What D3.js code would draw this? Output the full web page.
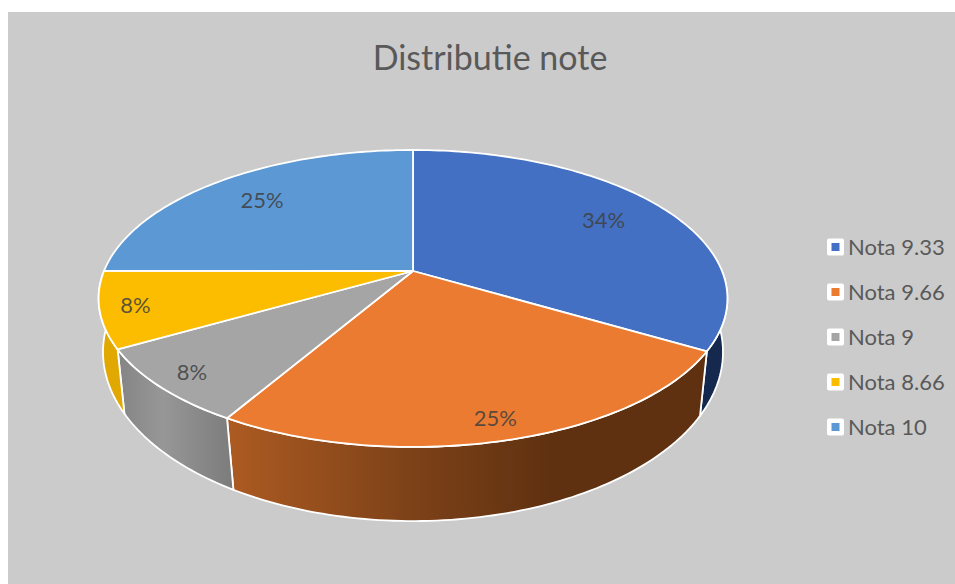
<!DOCTYPE html>
<html>
<head>
<meta charset="utf-8">
<script src="https://cdn.jsdelivr.net/npm/d3@7"></script>
<style>
    body { margin: 0; background: #fff; overflow: hidden; }
    text { font-family: Lato, "Open Sans", sans-serif; }
</style>
</head>
<body>
<div id="chart"></div>
<script>
/* ----------------------------------------------------- Data ------------------------------------------------------------------------- */

const title = "Distributie note";
const categories = ["Nota 9.33", "Nota 9.66", "Nota 9", "Nota 8.66", "Nota 10"];
const shares = [33.5, 25, 8.3, 8.3, 25];
const colors = ["#4370c2", "#ea7b30", "#a5a5a5", "#fcbd00", "#5b98d4"];

/* ----------------------------------------------------- Projection ------------------------------------------------------------------- */

const width = 955;
const height = 584;

/* the disc is seen in perspective, so the hub sits above the middle of the ellipse */
function project(disc, angle, r) {
    const u = r * Math.sin(angle);
    const v = r * Math.cos(angle);
    const w = 1 + disc.tilt * v;
    return [disc.cx + disc.rx * u / w, disc.cy - disc.ry * v / w];
}

const topDisc = { cx: 413, cy: 271, rx: 309, ry: 143.4, tilt: 0.185 };
const bottomDisc = { cx: 413, cy: 325, rx: 306, ry: 164.7, tilt: 0.16 };

function rim(disc, a0, a1) {
    const n = Math.max(2, Math.ceil((a1 - a0) / 0.02));
    return d3.range(n + 1).map(i => project(disc, a0 + (a1 - a0) * i / n, 1));
}

/* ----------------------------------------------------- Drawing ---------------------------------------------------------------------- */

const svg = d3.select("#chart").append("svg")
    .attr("width", width)
    .attr("height", height);

svg.append("rect")
    .attr("x", 8)
    .attr("y", 12)
    .attr("width", width - 8)
    .attr("height", height - 12)
    .attr("fill", "#cbcbcb");

svg.append("text")
    .attr("x", 490)
    .attr("y", 70)
    .attr("text-anchor", "middle")
    .attr("fill", "#595959")
    .style("font-size", "34px")
    .text(title);

const defs = svg.append("defs");

function wallGradient(id, stops) {
    const gradient = defs.append("linearGradient")
        .attr("id", id)
        .attr("gradientUnits", "userSpaceOnUse")
        .attr("x1", 100).attr("x2", 730)
        .attr("y1", 0).attr("y2", 0);
    stops.forEach(s => gradient.append("stop").attr("offset", s[0]).attr("stop-color", s[1]));
}

wallGradient("wall-0", [[0, "#15294f"], [1, "#15294f"]]);
wallGradient("wall-1", [[0.2, "#ad5b22"], [0.5, "#7c4118"], [0.72, "#5f3110"], [1, "#5f3110"]]);
wallGradient("wall-2", [[0, "#7d7d7d"], [0.1, "#979797"], [0.21, "#7c7c7c"]]);
wallGradient("wall-3", [[0, "#e0a800"], [1, "#e0a800"]]);

const slices = d3.pie().sort(null).value(d => d)(shares);
const line = d3.line();

/* only the front of the wall can be seen: from the right side of the disc round to the left side */
const front = [Math.PI / 2, 3 * Math.PI / 2];

svg.append("g").selectAll("path")
    .data(slices.slice(0, 4))
    .enter().append("path")
    .attr("d", d => {
        const a0 = Math.max(d.startAngle, front[0]);
        const a1 = Math.min(d.endAngle, front[1]);
        return line(rim(topDisc, a0, a1).concat(rim(bottomDisc, a0, a1).reverse())) + "Z";
    })
    .attr("fill", (d, i) => `url(#wall-${i})`)
    .attr("stroke", "#fff")
    .attr("stroke-width", 1.8)
    .attr("stroke-linejoin", "round");

svg.append("g").selectAll("path")
    .data(slices)
    .enter().append("path")
    .attr("d", d => line([project(topDisc, 0, 0)].concat(rim(topDisc, d.startAngle, d.endAngle))) + "Z")
    .attr("fill", (d, i) => colors[i])
    .attr("stroke", "#fff")
    .attr("stroke-width", 1.8)
    .attr("stroke-linejoin", "round");

/* labels sit further out on the near half of the disc */
svg.append("g").selectAll("text")
    .data(slices)
    .enter().append("text")
    .each(function (d) {
        const mid = (d.startAngle + d.endAngle) / 2;
        const p = project(topDisc, mid, Math.cos(mid) > 0 ? 0.76 : 0.89);
        d3.select(this).attr("x", p[0]).attr("y", p[1] + 2);
    })
    .attr("text-anchor", "middle")
    .attr("dominant-baseline", "middle")
    .attr("fill", "#404040")
    .attr("fill-opacity", 0.85)
    .style("font-size", "22px")
    .text(d => Math.round(d.data) + "%");

/* ----------------------------------------------------- Legend ----------------------------------------------------------------------- */

const legendY = d3.scalePoint()
    .domain(categories)
    .range([247, 427]);

const legend = svg.append("g").selectAll("g")
    .data(categories)
    .enter().append("g")
    .attr("transform", d => `translate(827, ${legendY(d)})`);

legend.append("rect")
    .attr("y", -8.5)
    .attr("width", 17)
    .attr("height", 17)
    .attr("rx", 2)
    .attr("fill", "#fff");

legend.append("rect")
    .attr("x", 4.5)
    .attr("y", -4)
    .attr("width", 8)
    .attr("height", 8)
    .attr("fill", (d, i) => colors[i]);

legend.append("text")
    .attr("x", 21)
    .attr("y", 2)
    .attr("dominant-baseline", "middle")
    .attr("fill", "#595959")
    .style("font-size", "22px")
    .text(d => d);
</script>
</body>
</html>
